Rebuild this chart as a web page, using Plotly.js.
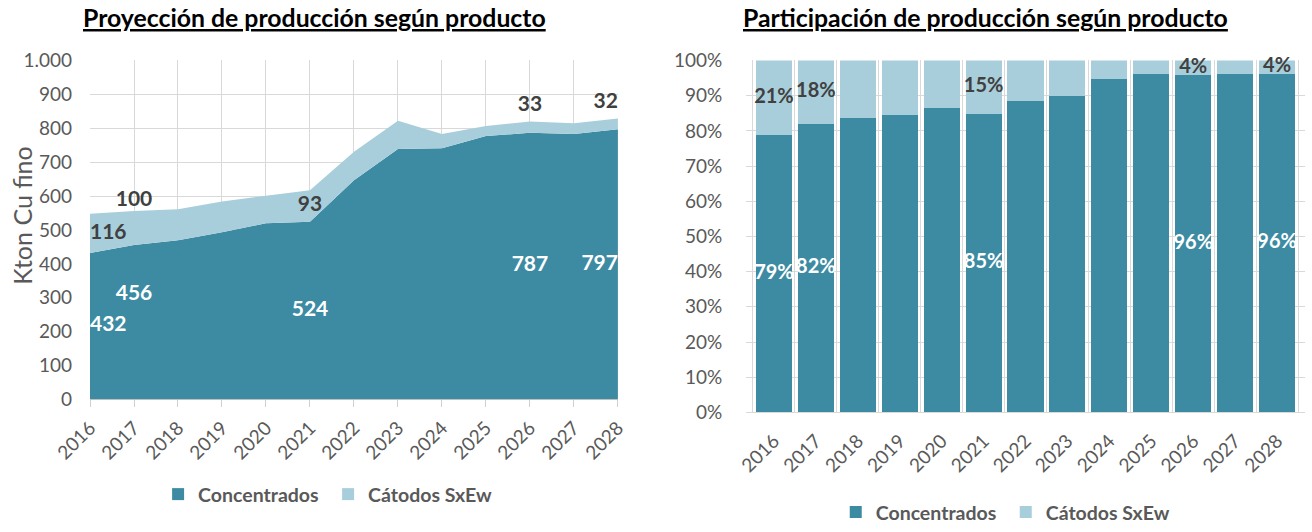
<!DOCTYPE html>
<html>
<head>
<meta charset="utf-8">
<script src="https://cdn.plot.ly/plotly-3.0.1.min.js"></script>
<style>
  body { margin: 0; background: #fff; }
  #chart { width: 1312px; height: 532px; }
</style>
</head>
<body>
<div id="chart"></div>
<script>
// kton Cu fino por año
var years = [2016, 2017, 2018, 2019, 2020, 2021, 2022, 2023, 2024, 2025, 2026, 2027, 2028];
var concentrados = [432, 456, 470, 493, 520, 524, 647, 739, 741, 777, 787, 783, 797];
var catodos = [116, 100, 91, 91, 81, 93, 84, 83, 42, 30, 33, 32, 32];
// años que llevan etiqueta de dato
var labelYears = [2016, 2017, 2021, 2026, 2028];

var colConc = '#3d8ba3';
var colCat = '#a9cedb';
var fontFam = 'Lato, "Open Sans", sans-serif';
var grey = '#595959';

// etiquetas
var lx = [], lPos = [], lConcY = [], lConcT = [], lCatY = [], lCatT = [];
var pConcY = [], pConcT = [], pCatY = [], pCatT = [];
var first = years[0], last = years[years.length - 1];
for (var i = 0; i < years.length; i++) {
    if (labelYears.indexOf(years[i]) < 0) continue;
    var c = concentrados[i], k = catodos[i], tot = c + k;
    lx.push(years[i]);
    // en los bordes el texto se corre hacia adentro
    lPos.push(years[i] == first ? 'middle right' : (years[i] == last ? 'middle left' : 'middle center'));
    lConcY.push(c / 2);
    lConcT.push('<b>' + c + '</b>');
    lCatY.push(k < 50 ? tot + 45 : c + k / 2);
    lCatT.push('<b>' + k + '</b>');
    var pc = c / tot * 100, pk = k / tot * 100;
    pConcY.push(pc / 2);
    pConcT.push('<b>' + Math.round(pc) + '%</b>');
    pCatY.push(pc + pk / 2);
    pCatT.push('<b>' + Math.round(pk) + '%</b>');
}
// si dos etiquetas vecinas chocan, la segunda sube
function bump(ys) {
    for (var j = 1; j < ys.length; j++) {
        if (lx[j] - lx[j - 1] <= 1 && Math.abs(ys[j] - ys[j - 1]) < 60) ys[j] = ys[j] + 80;
    }
}
bump(lConcY);
bump(lCatY);

var data = [
    // --- izquierda: área apilada
    {
        x: years, y: concentrados, type: 'scatter', mode: 'none',
        stackgroup: 'one', fillcolor: colConc, name: 'Concentrados',
        xaxis: 'x', yaxis: 'y', showlegend: false, hoverinfo: 'y'
    },
    {
        x: years, y: catodos, type: 'scatter', mode: 'none',
        stackgroup: 'one', fillcolor: colCat, name: 'Cátodos SxEw',
        xaxis: 'x', yaxis: 'y', showlegend: false, hoverinfo: 'y'
    },
    // copia en ejes superpuestos fuera de rango, solo para la leyenda con símbolo cuadrado
    {
        x: years, y: concentrados, type: 'bar', name: 'Concentrados',
        marker: {color: colConc}, xaxis: 'x3', yaxis: 'y3', legend: 'legend', hoverinfo: 'skip'
    },
    {
        x: years, y: catodos, type: 'bar', name: 'Cátodos SxEw',
        marker: {color: colCat}, xaxis: 'x3', yaxis: 'y3', legend: 'legend', hoverinfo: 'skip'
    },
    {
        x: lx, y: lConcY, text: lConcT, mode: 'text', type: 'scatter', textposition: lPos,
        textfont: {color: '#ffffff', size: 21, family: fontFam},
        showlegend: false, cliponaxis: false, xaxis: 'x', yaxis: 'y', hoverinfo: 'skip'
    },
    {
        x: lx, y: lCatY, text: lCatT, mode: 'text', type: 'scatter', textposition: lPos,
        textfont: {color: '#404040', size: 21, family: fontFam},
        showlegend: false, cliponaxis: false, xaxis: 'x', yaxis: 'y', hoverinfo: 'skip'
    },
    // --- derecha: barras 100%
    {
        x: years, y: concentrados, type: 'bar', name: 'Concentrados',
        marker: {color: colConc}, xaxis: 'x2', yaxis: 'y2', legend: 'legend2'
    },
    {
        x: years, y: catodos, type: 'bar', name: 'Cátodos SxEw',
        marker: {color: colCat}, xaxis: 'x2', yaxis: 'y2', legend: 'legend2'
    },
    {
        x: lx, y: pConcY, text: pConcT, mode: 'text', type: 'scatter',
        textfont: {color: '#ffffff', size: 20, family: fontFam},
        showlegend: false, cliponaxis: false, xaxis: 'x2', yaxis: 'y2', hoverinfo: 'skip'
    },
    {
        x: lx, y: pCatY, text: pCatT, mode: 'text', type: 'scatter',
        textfont: {color: '#404040', size: 20, family: fontFam},
        showlegend: false, cliponaxis: false, xaxis: 'x2', yaxis: 'y2', hoverinfo: 'skip'
    }
];

var layout = {
    width: 1312, height: 532,
    margin: {l: 0, r: 0, t: 0, b: 0},
    paper_bgcolor: '#ffffff', plot_bgcolor: '#ffffff',
    font: {family: fontFam, color: grey},
    separators: ',.',
    barmode: 'stack', barnorm: 'percent', bargap: 0.14,
    xaxis: {
        domain: [0.0686, 0.471], anchor: 'y', automargin: false,
        range: [2016, 2028], dtick: 1, tickformat: 'd', tickangle: -45,
        showgrid: true, gridcolor: '#d9d9d9', gridwidth: 1,
        showline: true, linecolor: '#bfbfbf', ticks: 'outside', ticklen: 7, tickcolor: '#d0d0d0',
        tickfont: {size: 19, color: grey}, zeroline: false, ticklabelstandoff: 2
    },
    yaxis: {
        domain: [0.2406, 0.885], anchor: 'x', automargin: false,
        range: [0, 1000], dtick: 100, tickformat: ',',
        showgrid: true, gridcolor: '#d9d9d9', zeroline: false,
        tickfont: {size: 19, color: grey}, ticklabelstandoff: 17
    },
    // ejes superpuestos ocultos (fuera de rango) para la leyenda izquierda
    xaxis3: {overlaying: 'x', anchor: 'y3', visible: false, range: [0, 1], type: 'linear'},
    yaxis3: {overlaying: 'y', anchor: 'x3', visible: false, range: [-2, -1]},
    xaxis2: {
        domain: [0.5686, 0.9947], anchor: 'y2', type: 'category', automargin: false,
        tickangle: -45, tickson: 'boundaries',
        showgrid: true, gridcolor: '#d9d9d9',
        showline: true, linecolor: '#d9d9d9', ticks: '',
        tickfont: {size: 19, color: grey}, ticklabelstandoff: 9
    },
    yaxis2: {
        domain: [0.216, 0.885], anchor: 'x2', automargin: false,
        range: [0, 100], dtick: 10, ticksuffix: '%',
        showgrid: true, gridcolor: '#d9d9d9', zeroline: false,
        ticks: 'outside', ticklen: 19, tickcolor: 'rgba(0,0,0,0)',
        tickfont: {size: 19, color: grey}
    },
    legend: {
        orientation: 'h', x: 0.1205, xanchor: 'left', y: 0.06, yanchor: 'middle',
        font: {size: 19.5, color: grey, weight: 'bold'}, traceorder: 'normal', entrywidth: 125
    },
    legend2: {
        orientation: 'h', x: 0.637, xanchor: 'left', y: 0.026, yanchor: 'middle',
        font: {size: 19.5, color: grey, weight: 'bold'}, traceorder: 'normal', entrywidth: 125
    },
    annotations: [
        {
            text: '<b><u>Proyección de producción según producto</u></b>',
            xref: 'paper', yref: 'paper', x: 0.24, y: 0.966, xanchor: 'center', yanchor: 'middle',
            showarrow: false, font: {size: 24.8, color: '#000000', family: fontFam}
        },
        {
            text: '<b><u>Participación de producción según producto</u></b>',
            xref: 'paper', yref: 'paper', x: 0.751, y: 0.966, xanchor: 'center', yanchor: 'middle',
            showarrow: false, font: {size: 24.8, color: '#000000', family: fontFam}
        },
        {
            // título del eje y
            text: 'Kton Cu fino', textangle: -90,
            xref: 'paper', yref: 'paper', x: 0.0168, y: 0.59, xanchor: 'center', yanchor: 'middle',
            showarrow: false, font: {size: 25, color: grey, family: fontFam}
        }
    ],
    showlegend: true
};

Plotly.newPlot('chart', data, layout, {displayModeBar: false, staticPlot: true});
</script>
</body>
</html>
